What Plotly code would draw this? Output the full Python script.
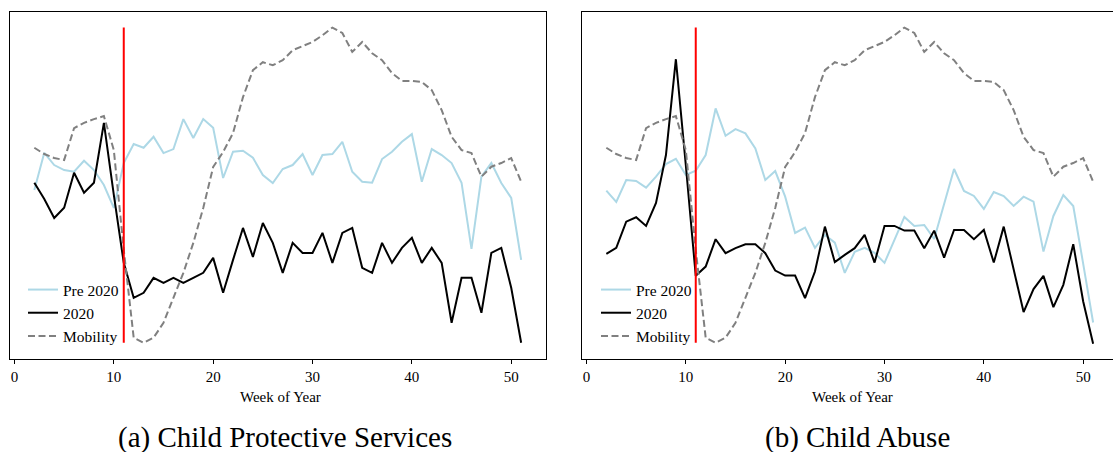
import plotly.graph_objects as go

weeks = list(range(2, 52))
lockdown_week = 11

# Panel (a) Child Protective Services (arbitrary index units)
cps_pre2020 = [170, 207.3, 195, 190, 188.3, 199.3, 190, 175, 152, 197, 216, 212.3, 223.3, 207, 211, 241, 222, 241,
               232.3, 182, 208.3, 209.3, 202.3, 185, 177, 191, 195, 206, 185, 205, 206, 218.3, 188.3, 178.3, 177.3,
               201, 208.3, 218.3, 226, 178.3, 211, 205, 197, 177.3, 111, 183.3, 197, 177, 162, 100]
cps_2020 = [177.3, 161, 142, 152.3, 187.3, 167.3, 177.3, 237.3, 165, 97, 62, 67, 82, 77, 82, 77, 82, 87, 102, 67,
            100, 132, 103, 137, 117, 87, 117, 107, 107, 127, 97, 127, 132, 92, 87, 117, 97, 112, 122, 97, 112, 97,
            37, 82, 82, 47, 107, 112, 72, 17]

# Panel (b) Child Abuse
abuse_pre2020 = [169.3, 158, 180, 179, 172.3, 183.3, 196, 201.3, 185, 189.3, 205, 251.7, 224.3, 231, 226.7, 211.7,
                 180, 189, 163.3, 127, 132.3, 112, 125, 117.3, 87, 108, 112, 107, 97, 120, 143, 134, 135, 121, 157,
                 191, 169, 164, 151, 168, 164, 154, 163.3, 158.3, 108.3, 144, 165, 154, 96, 37.3]
abuse_2020 = [106, 112, 138.3, 142.7, 134, 157, 205, 301, 195, 84, 93.3, 120.7, 106.7, 111.7, 115.7, 115.7, 106.7,
              89.3, 84.3, 84.3, 61.7, 88.3, 133.3, 97.7, 105, 111.7, 125, 97.3, 134, 134, 129.3, 129.3, 111.7, 129.3,
              102.3, 130, 130, 120.7, 130, 97.3, 133.3, 90, 47.7, 70.7, 84, 52.7, 75, 115.7, 58.3, 16]

# Mobility (same in both panels)
mobility = [212.3, 206, 202, 200, 232, 237.3, 241, 244, 210, 110, 22, 17, 22, 37, 62, 87, 117, 152, 193, 208, 227,
            263, 290, 298, 295, 300, 310, 314, 318.3, 325, 332.7, 327.3, 308.3, 318.3, 307, 300, 287, 279.3, 279.3,
            278.3, 270, 250, 223.3, 210, 207, 183.3, 193.3, 197, 202, 178.3]

tick_vals = [0, 10, 20, 30, 40, 50]
captions = ["(a) Child Protective Services", "(b) Child Abuse"]

W, H = 1113, 452
ML, MR, MT, MB = 10, 0, 12, 93
PW, PH = W - ML - MR, H - MT - MB


def px_x(p):
    return (p - ML) / PW


def px_y(p):
    return (H - MB - p) / PH


SERIF = "Liberation Serif, Times New Roman, serif"

fig = go.Figure()

panels = [
    (cps_pre2020, cps_2020, "x", "y", "legend"),
    (abuse_pre2020, abuse_2020, "x2", "y2", "legend2"),
]
for pre, cur, xa, ya, lg in panels:
    fig.add_trace(go.Scatter(x=weeks, y=pre, mode="lines", name="Pre 2020", xaxis=xa, yaxis=ya, legend=lg,
                             legendgroup="a" + xa, line=dict(color="#ADD8E6", width=2)))
    fig.add_trace(go.Scatter(x=weeks, y=cur, mode="lines", name="2020", xaxis=xa, yaxis=ya, legend=lg,
                             legendgroup="b" + xa, line=dict(color="black", width=2)))
    fig.add_trace(go.Scatter(x=weeks, y=mobility, mode="lines", name="Mobility", xaxis=xa, yaxis=ya, legend=lg,
                             legendgroup="c" + xa, line=dict(color="#808080", width=2, dash="7px,3.5px")))
    fig.add_shape(type="line", xref=xa, yref=ya, x0=lockdown_week, x1=lockdown_week,
                  y0=min(mobility), y1=max(mobility), line=dict(color="red", width=2))

axis_common = dict(showline=True, linecolor="black", linewidth=1.3, showgrid=False, zeroline=False)
yrange = [0.7, 348.3]

fig.update_layout(
    width=W, height=H,
    margin=dict(l=ML, r=MR, t=MT, b=MB),
    paper_bgcolor="white", plot_bgcolor="white",
    font=dict(family=SERIF, size=15, color="black"),
    xaxis=dict(domain=[0, px_x(545.5)], range=[-0.45, 53.45], tickvals=tick_vals, ticks="outside", ticklen=4,
               tickwidth=1, tickcolor="black", mirror=True, anchor="y", **axis_common),
    xaxis2=dict(domain=[px_x(582), 1], range=[-0.45, 53.0], tickvals=tick_vals, ticks="outside", ticklen=4,
                tickwidth=1, tickcolor="black", mirror=True, anchor="y2", **axis_common),
    yaxis=dict(domain=[0, 1], range=yrange, showticklabels=False, ticks="", anchor="x", mirror=True,
               **axis_common),
    yaxis2=dict(domain=[0, 1], range=yrange, showticklabels=False, ticks="", anchor="x2", mirror=False,
                **axis_common),
    legend=dict(x=px_x(23), y=px_y(353), xanchor="left", yanchor="bottom", bgcolor="rgba(0,0,0,0)",
                font=dict(family=SERIF, size=15.5), tracegroupgap=0, traceorder="normal"),
    legend2=dict(x=px_x(596), y=px_y(353), xanchor="left", yanchor="bottom", bgcolor="rgba(0,0,0,0)",
                 font=dict(family=SERIF, size=15.5), tracegroupgap=0, traceorder="normal"),
)

# Axis titles
for cx in (280, 852):
    fig.add_annotation(text="Week of Year", xref="paper", yref="paper", x=px_x(cx), y=px_y(397),
                       xanchor="center", yanchor="middle", showarrow=False, font=dict(family=SERIF, size=15))
# Captions
for cx, cap in zip((284.5, 857.5), captions):
    fig.add_annotation(text=cap, xref="paper", yref="paper", x=px_x(cx), y=px_y(437),
                       xanchor="center", yanchor="middle", showarrow=False, font=dict(family=SERIF, size=29))

fig.write_html("out.html", config={"displayModeBar": False},
               post_script="document.body.style.margin='0';document.body.style.overflow='hidden';")
